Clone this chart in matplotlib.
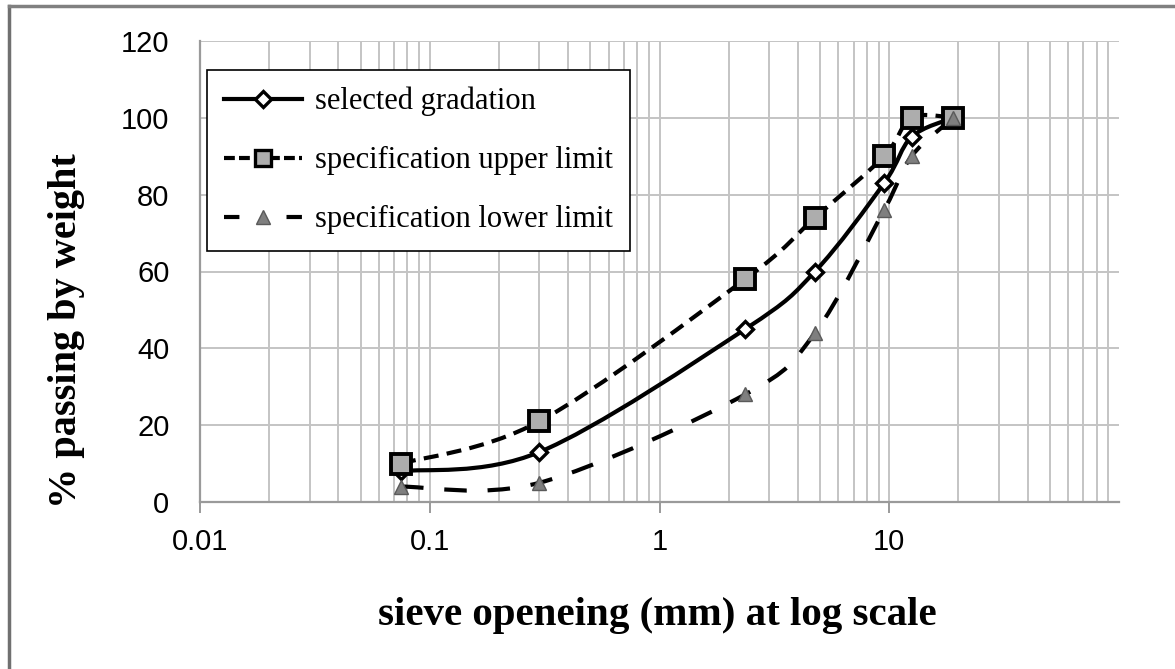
import numpy as np
import matplotlib
matplotlib.use("Agg")
import matplotlib.pyplot as plt
from matplotlib.path import Path
from matplotlib.patches import PathPatch
from matplotlib.lines import Line2D

# sieve sizes (mm) and % passing
sieve = [0.075, 0.3, 2.36, 4.75, 9.5, 12.5, 19]
selected = [8, 13, 45, 60, 83, 95, 100]
upper = [10, 21, 58, 74, 90, 100, 100]
lower = [4, 5, 28, 44, 76, 90, 100]

x_ticks = [0.01, 0.1, 1, 10]
x_tick_labels = ["0.01", "0.1", "1", "10"]
y_ticks = [0, 20, 40, 60, 80, 100, 120]


def smooth_path(xs, ys):
    # excel-like smoothed line: bezier segments in log-x space
    lx = np.log10(xs)
    ys = np.asarray(ys, dtype=float)
    pts = np.column_stack([lx, ys])
    n = len(pts)
    verts = [pts[0]]
    codes = [Path.MOVETO]
    for i in range(n - 1):
        p0 = pts[max(i - 1, 0)]
        p1 = pts[i]
        p2 = pts[i + 1]
        p3 = pts[min(i + 2, n - 1)]
        c1 = p1 + (p2 - p0) / 6.0
        c2 = p2 - (p3 - p1) / 6.0
        verts += [c1, c2, p2]
        codes += [Path.CURVE4] * 3
    verts = np.array(verts)
    verts[:, 0] = 10 ** verts[:, 0]
    return Path(verts, codes)


W, H = 1175, 669
fig = plt.figure(figsize=(W / 100, H / 100), dpi=100)
ax = fig.add_axes([200 / W, 1 - 502 / H, 919 / W, 461 / H])

ax.set_xscale("log")
ax.set_xlim(0.01, 100)
ax.set_ylim(0, 120)

grid_c = "#c4c4c4"
ax.grid(True, which="both", axis="x", color=grid_c, lw=1.4)
ax.grid(True, which="major", axis="y", color=grid_c, lw=1.4)
ax.set_axisbelow(True)

for s in ["top", "right"]:
    ax.spines[s].set_visible(False)
for s in ["left", "bottom"]:
    ax.spines[s].set_color("#9a9a9a")
    ax.spines[s].set_linewidth(1.6)

ax.set_xticks(x_ticks)
ax.set_xticklabels(x_tick_labels)
ax.set_yticks(y_ticks)
ax.tick_params(axis="x", which="major", length=8, width=1.4, color="#9a9a9a",
               pad=11, labelsize=21)
ax.tick_params(axis="x", which="minor", length=0)
ax.tick_params(axis="y", length=0, pad=22, labelsize=21)
for lab in ax.get_xticklabels() + ax.get_yticklabels():
    lab.set_fontfamily("Liberation Sans")

lw = 3.0
ax.add_patch(PathPatch(smooth_path(sieve, selected), fill=False, color="black",
                       lw=lw, zorder=3))
ax.plot(sieve, selected, ls="none", marker="D", ms=8, mfc="white", mec="black",
        mew=2.4, zorder=4)

ax.add_patch(PathPatch(smooth_path(sieve, upper), fill=False, color="black",
                       lw=lw, ls=(0, (3.6, 2.0)), zorder=3))
ax.plot(sieve, upper, ls="none", marker="s", ms=15, mfc="#adadad", mec="black",
        mew=2.8, zorder=5)

ax.add_patch(PathPatch(smooth_path(sieve, lower), fill=False, color="black",
                       lw=lw, ls=(0, (5.4, 5.0)), zorder=3))
ax.plot(sieve, lower, ls="none", marker="^", ms=10, mfc="#7f7f7f", mec="#5a5a5a",
        mew=1, zorder=6)

handles = [
    Line2D([], [], color="black", lw=lw, marker="D", ms=8, mfc="white",
           mec="black", mew=2.4),
    Line2D([], [], color="black", lw=lw, ls=(0, (2.6, 1.0)), marker="s", ms=11,
           mfc="#adadad", mec="black", mew=2.4),
    Line2D([], [], color="black", lw=lw, ls=(0, (3.7, 11.3)), marker="^", ms=10,
           mfc="#7f7f7f", mec="#5a5a5a", mew=1),
]
labels = ["selected gradation", "specification upper limit",
          "specification lower limit"]
leg = ax.legend(handles, labels, loc="upper left",
                bbox_to_anchor=(7 / 919, 432 / 461), borderaxespad=0,
                frameon=True, fancybox=False, edgecolor="black", framealpha=1,
                numpoints=1, handlelength=2.55, handletextpad=0.45,
                labelspacing=0.98, borderpad=0.55,
                prop={"family": "Liberation Serif", "size": 22})
leg.get_frame().set_linewidth(1.2)

fig.text(657 / W, 1 - 616 / H, "sieve openeing (mm) at log scale",
         fontfamily="Liberation Serif", fontweight="bold", fontsize=29.5,
         ha="center", va="center")
fig.text(67 / W, 1 - 331 / H, "% passing by weight",
         fontfamily="Liberation Serif", fontweight="bold", fontsize=29,
         ha="center", va="center", rotation=90)

# outer border (left and top only)
fig.add_artist(Line2D([9 / W, 9 / W], [0, 1 - 6 / H], color="#707070",
                      lw=2.5, transform=fig.transFigure))
fig.add_artist(Line2D([9 / W, 1], [1 - 6 / H, 1 - 6 / H], color="#808080",
                      lw=2.5, transform=fig.transFigure))

fig.savefig("out.png", dpi=100)
